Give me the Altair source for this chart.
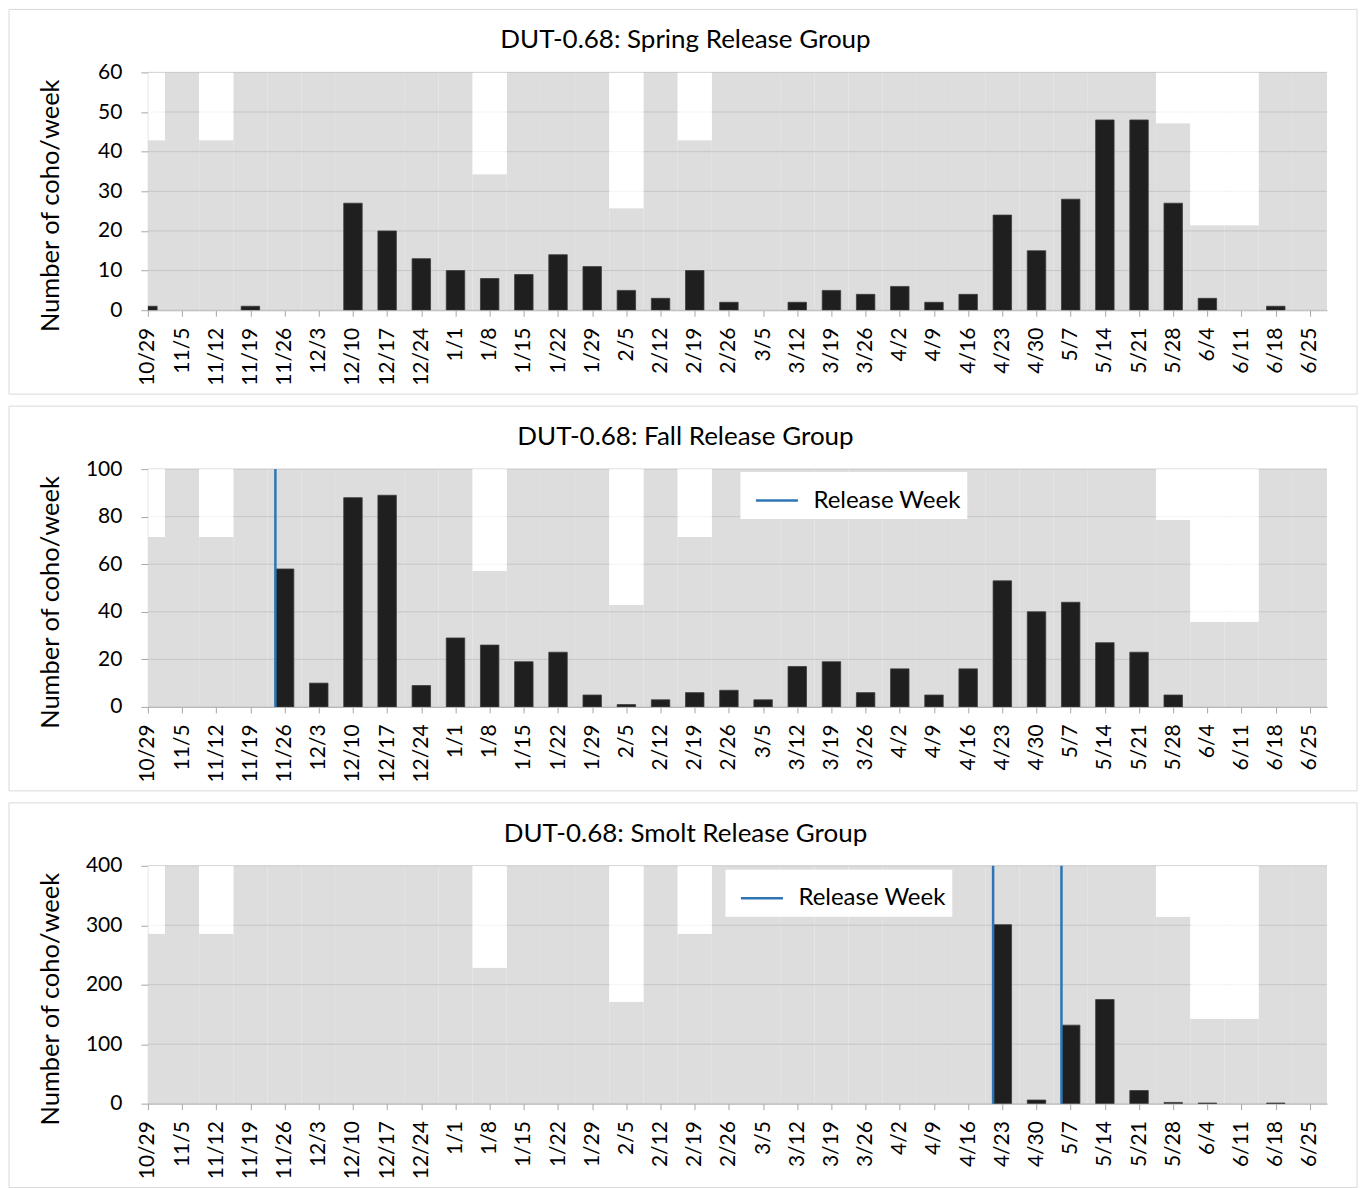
import altair as alt
import pandas as pd

weeks = ["10/29", "11/5", "11/12", "11/19", "11/26", "12/3", "12/10", "12/17", "12/24",
         "1/1", "1/8", "1/15", "1/22", "1/29", "2/5", "2/12", "2/19", "2/26", "3/5",
         "3/12", "3/19", "3/26", "4/2", "4/9", "4/16", "4/23", "4/30", "5/7", "5/14",
         "5/21", "5/28", "6/4", "6/11", "6/18", "6/25"]

# days the trap fished in each week (out of 7) -> grey background height
days_fished = [5, 7, 5, 7, 7, 7, 7, 7, 7, 7, 4, 7, 7, 7, 3, 7, 5, 7, 7,
               7, 7, 7, 7, 7, 7, 7, 7, 7, 7, 7, 5.5, 2.5, 2.5, 7, 7]

spring_counts = [1, 0, 0, 1, 0, 0, 27, 20, 13, 10, 8, 9, 14, 11, 5, 3, 10, 2, 0,
                 2, 5, 4, 6, 2, 4, 24, 15, 28, 48, 48, 27, 3, 0, 1, 0]
fall_counts = [0, 0, 0, 0, 58, 10, 88, 89, 9, 29, 26, 19, 23, 5, 1, 3, 6, 7, 3,
               17, 19, 6, 16, 5, 16, 53, 40, 44, 27, 23, 5, 0, 0, 0, 0]
smolt_counts = [0, 0, 0, 0, 0, 0, 0, 0, 0, 0, 0, 0, 0, 0, 0, 0, 0, 0, 0,
                0, 0, 0, 0, 0, 0, 301, 6, 132, 175, 22, 2, 1, 0, 1, 0]

fall_release = ["11/26"]
smolt_release = ["4/23", "5/7"]

spring_ticks = [0, 10, 20, 30, 40, 50, 60]
fall_ticks = [0, 20, 40, 60, 80, 100]
smolt_ticks = [0, 100, 200, 300, 400]

FONT = "Lato"
GREY = "#dddddd"
GRID = "#c6c6c6"
AX = "#a6a6a6"
BAR = "#1f1f1f"
BAR_STROKE = "#3c3c3c"
BLUE = "#2e75b6"
FRAME = "#d9d9d9"
BAR_HALF = 0.27


def panel(title, counts, ticks, releases=None, legend_xy=None):
    ymax = ticks[-1]
    idx = list(range(len(weeks)))
    df = pd.DataFrame({"week": weeks, "i": idx, "n": counts, "days": days_fished})
    df["trap"] = df["days"] / 7 * ymax
    df["x0"] = df["i"] - 0.5
    df["x1"] = df["i"] + 0.5
    df["b0"] = df["i"] - BAR_HALF
    df["b1"] = df["i"] + BAR_HALF

    xs = alt.Scale(domain=[0, 34.5], nice=False, zero=False)
    ys = alt.Scale(domain=[0, ymax], nice=False, zero=True)
    label_js = "[" + ",".join("'%s'" % w for w in weeks) + "][datum.value]"

    xaxis = alt.Axis(values=idx, tickCount=100, labelExpr=label_js, title=None,
                     labelOverlap=False, labelFlush=False)
    yaxis = alt.Axis(values=ticks, tickCount=100, format="d",
                     title="Number of coho/week", titleX=-97, titleY=133,
                     labelOverlap=False)

    base = alt.Chart(df)
    grey = base.mark_rect(color=GREY, clip=True).encode(
        x=alt.X("x0:Q", scale=xs, axis=xaxis), x2="x1:Q",
        y=alt.Y("trap:Q", scale=ys, axis=yaxis), y2=alt.datum(0))
    grid = alt.Chart(pd.DataFrame({"v": ticks})).mark_rule(
        color=GRID, strokeWidth=1).encode(y=alt.Y("v:Q", scale=ys, axis=yaxis))
    haze = base.mark_rect(color="white", opacity=0.8, clip=True).encode(
        x=alt.X("x0:Q", axis=xaxis), x2="x1:Q",
        y=alt.Y("trap:Q", axis=yaxis), y2=alt.datum(ymax))
    bars = base.transform_filter("datum.n > 0").mark_rect(
        color=BAR, stroke=BAR_STROKE, strokeWidth=0.8, clip=True).encode(
        x=alt.X("b0:Q", axis=xaxis), x2="b1:Q",
        y=alt.Y("n:Q", axis=yaxis), y2=alt.datum(0))
    one = pd.DataFrame({"t": [title]})
    frame = alt.Chart(one).mark_rect(
        filled=False, color=FRAME, strokeWidth=1, clip=False).encode(
        x=alt.value(-139), x2=alt.value(1210), y=alt.value(-63), y2=alt.value(322))
    head = alt.Chart(one).mark_text(
        font=FONT, fontSize=26, color="black", align="center",
        baseline="middle", clip=False).encode(
        text="t:N", x=alt.value(538), y=alt.value(-32))

    layers = [grey, grid, haze, bars]
    if releases:
        rel = pd.DataFrame({"week": releases, "series": ["Release Week"] * len(releases)})
        rel["rx"] = [weeks.index(w) - BAR_HALF for w in releases]
        legend = alt.Legend(title=None, orient="none", legendX=legend_xy[0],
                            legendY=legend_xy[1], fillColor="white", padding=6,
                            symbolType="stroke", symbolSize=1764,
                            symbolStrokeWidth=2.5, symbolOffset=8, labelOffset=14,
                            labelFont=FONT, labelFontSize=24, labelColor="black")
        layers.append(alt.Chart(rel).mark_rule(strokeWidth=2.5).encode(
            x=alt.X("rx:Q", axis=xaxis),
            color=alt.Color("series:N",
                            scale=alt.Scale(domain=["Release Week"], range=[BLUE]),
                            legend=legend)))
    layers += [frame, head]
    return alt.layer(*layers).properties(width=1180, height=238)


p1 = panel("DUT-0.68: Spring Release Group", spring_counts, spring_ticks)
p2 = panel("DUT-0.68: Fall Release Group", fall_counts, fall_ticks,
           fall_release, (593, 3))
p3 = panel("DUT-0.68: Smolt Release Group", smolt_counts, smolt_ticks,
           smolt_release, (578, 4))

chart = (
    alt.vconcat(p1, p2, p3, spacing=10, padding=0)
    .resolve_scale(color="independent")
    .configure_view(stroke=None)
    .configure_axis(grid=False, domainColor=AX, tickColor=AX, labelFont=FONT,
                    labelColor="black", labelFontSize=21, titleFont=FONT,
                    titleColor="black", titleFontWeight="normal", zindex=1,
                    labelOverlap=False)
    .configure_axisX(tickSize=6, labelAngle=270, labelAlign="right",
                     labelBaseline="middle", labelPadding=11, labelFlush=False)
    .configure_axisY(tickSize=7, labelPadding=19, titleFontSize=25.5,
                     titleAngle=270, titleAlign="center", titleBaseline="middle")
)

chart.save("out.html", embed_options={"renderer": "svg", "actions": False})
